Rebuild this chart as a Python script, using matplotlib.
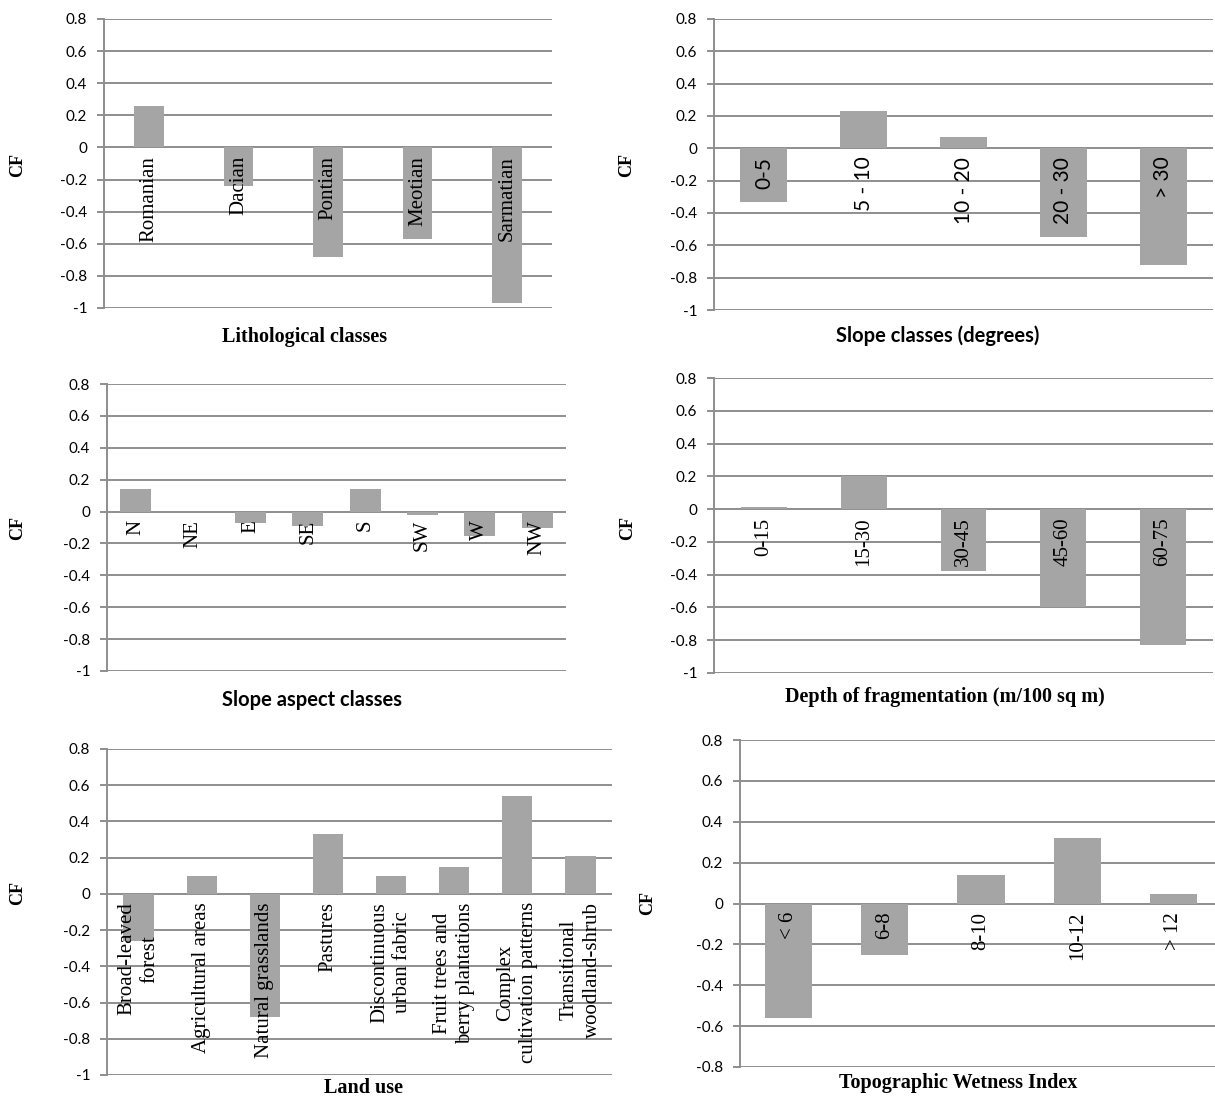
import matplotlib
matplotlib.use("Agg")
import matplotlib.pyplot as plt

W, H = 1215, 1097

# data
litho_cats = ["Romanian", "Dacian", "Pontian", "Meotian", "Sarmatian"]
litho_cf = [0.26, -0.24, -0.68, -0.57, -0.97]

slope_cats = ["0-5", "5 - 10", "10 - 20", "20 - 30", "> 30"]
slope_cf = [-0.33, 0.23, 0.07, -0.55, -0.72]

aspect_cats = ["N", "NE", "E", "SE", "S", "SW", "W", "NW"]
aspect_cf = [0.14, 0.0, -0.07, -0.09, 0.14, -0.02, -0.155, -0.10]

depth_cats = ["0-15", "15-30", "30-45", "45-60", "60-75"]
depth_cf = [0.015, 0.20, -0.38, -0.60, -0.83]

landuse_cats = ["Broad-leaved\nforest", "Agricultural areas", "Natural grasslands",
                "Pastures", "Discontinuous\nurban fabric", "Fruit trees and\nberry plantations",
                "Complex\ncultivation patterns", "Transitional\nwoodland-shrub"]
landuse_cf = [-0.26, 0.10, -0.68, 0.33, 0.10, 0.15, 0.54, 0.21]

twi_cats = ["< 6", "6-8", "8-10", "10-12", "> 12"]
twi_cf = [-0.56, -0.25, 0.14, 0.32, 0.045]

BAR = "#a5a5a5"
GRID = "#8e8e8e"
SERIF = ["Liberation Serif", "DejaVu Serif"]
SANS = ["Lato", "DejaVu Sans"]

fig = plt.figure(figsize=(W / 100, H / 100), dpi=100)


def box(l, t, r, b):
    return [l / W, 1 - b / H, (r - l) / W, (b - t) / H]


def panel(rect, cats, vals, width, ylo, xtitle, tpos, cfpos, labfont, titlefont):
    ax = fig.add_axes(box(*rect))
    x = range(len(cats))
    ax.bar(x, vals, width=width, color=BAR, zorder=2)
    ax.set_xlim(-0.5, len(cats) - 0.5)
    ax.set_ylim(ylo, 0.8)
    ticks = [round(ylo + 0.2 * i, 1) for i in range(int(round((0.8 - ylo) / 0.2)) + 1)]
    ax.set_yticks(ticks)
    ax.set_yticklabels(["0" if t == 0 else ("%g" % t) for t in ticks],
                       fontfamily=SANS, fontsize=11)
    ax.grid(axis="y", color=GRID, linewidth=1.4, zorder=1)
    ax.set_xticks([])
    for s in ["top", "right", "bottom"]:
        ax.spines[s].set_visible(False)
    ax.spines["left"].set_color(GRID)
    ax.spines["left"].set_linewidth(1.4)
    ax.tick_params(axis="y", length=5, color=GRID, width=1.4, pad=7)
    for i, c in enumerate(cats):
        ax.annotate(c, (i, 0), xytext=(0, -6), textcoords="offset points",
                    rotation=90, ha="center", va="top", multialignment="center",
                    fontfamily=labfont, fontsize=15, linespacing=1.3, zorder=3)
    fig.text(tpos[0] / W, 1 - tpos[1] / H, xtitle, ha="center", va="center",
             fontfamily=titlefont, fontweight="bold", fontsize=14.5)
    fig.text(cfpos[0] / W, 1 - cfpos[1] / H, "CF", ha="center", va="center",
             rotation=90, fontfamily=SERIF, fontweight="bold", fontsize=13)
    return ax


panel((104, 19, 552, 308), litho_cats, litho_cf, 0.33, -1.0,
      "Lithological classes", (305, 337), (18, 165), SERIF, SERIF)
panel((714, 19, 1213, 310), slope_cats, slope_cf, 0.47, -1.0,
      "Slope classes (degrees)", (938, 336), (627, 165), SANS, SANS)
panel((107, 384, 566, 671), aspect_cats, aspect_cf, 0.54, -1.0,
      "Slope aspect classes", (312, 700), (18, 528), SERIF, SANS)
panel((714, 378, 1213, 673), depth_cats, depth_cf, 0.46, -1.0,
      "Depth of fragmentation (m/100 sq m)", (945, 697), (628, 528), SERIF, SERIF)
panel((107, 749, 612, 1075), landuse_cats, landuse_cf, 0.48, -1.0,
      "Land use", (363, 1088), (18, 893), SERIF, SERIF)
panel((740, 740, 1222, 1067), twi_cats, twi_cf, 0.49, -0.8,
      "Topographic Wetness Index", (958, 1083), (648, 903), SERIF, SERIF)

fig.savefig("out.png", dpi=100, facecolor="white")
